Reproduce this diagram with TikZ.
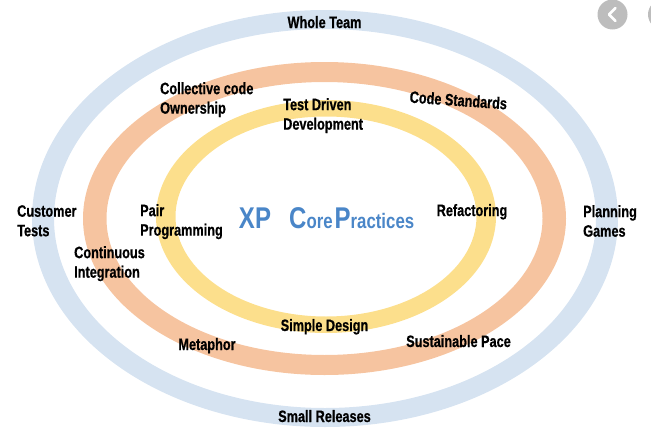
\documentclass[tikz,border=0pt]{standalone}
\usepackage{fontspec}
\setmainfont{Liberation Sans}[FakeStretch=0.77, FakeBold=0.6]
\newfontfamily\titlefont{Liberation Sans}[FakeStretch=0.8]
\definecolor{ringblue}{HTML}{D6E3F1}
\definecolor{ringorange}{HTML}{F6C4A0}
\definecolor{ringyellow}{HTML}{FCDF8C}
\definecolor{xpblue}{HTML}{4A86C8}
\definecolor{btngray}{HTML}{BDBDBD}
\begin{document}
\begin{tikzpicture}[x=1pt,y=-1pt,
  lab/.style={font=\bfseries\fontsize{16.5}{19.5}\selectfont, inner sep=0pt, align=left, text=black},
  big/.style={font=\titlefont\bfseries, inner sep=0pt, text=xpblue},
  ring/.style={even odd rule}]
\useasboundingbox (0,0) rectangle (651,439);
\clip (0,0) rectangle (651,439);
% rings
\fill[ring, ringblue] (325,218.5) ellipse [x radius=293pt, y radius=208.5pt]
                      (325,218.5) ellipse [x radius=271pt, y radius=189.5pt];
\fill[ring, ringorange] (324.5,218.5) ellipse [x radius=241.5pt, y radius=156.5pt]
                        (324.5,218.5) ellipse [x radius=218pt, y radius=136.5pt];
\fill[ring, ringyellow] (326,216.5) ellipse [x radius=170pt, y radius=116.5pt]
                        (326,216.5) ellipse [x radius=150.5pt, y radius=100pt];
% browser buttons
\fill[btngray] (612.5,14.5) circle [radius=15pt];
\draw[white, line width=2.6pt, line cap=round, line join=round] (615.5,8) -- (609,14.5) -- (615.5,21);
\fill[btngray] (663,14.5) circle [radius=15pt];
% labels
\node[lab, anchor=base] (whole) at (324.5,28) {Whole Team};
\node[lab, anchor=north west] (coll) at (160,82) {Collective code\\Ownership};
\node[lab, anchor=north west] (tdd) at (283,98) {Test Driven\\Development};
\node[lab, anchor=base, rotate=-4] (cs) at (458,106) {Code Standards};
\node[lab, anchor=north west] (cust) at (17,205) {Customer\\Tests};
\node[lab, anchor=north west] (pair) at (140,204) {Pair\\Programming};
\node[lab, anchor=north west] (plan) at (583,205) {Planning\\Games};
\node[lab, anchor=north west] (ci) at (74,246) {Continuous\\Integration};
\node[lab, anchor=base] (refac) at (472,216) {Refactoring};
\node[lab, anchor=base] (simple) at (324.5,331) {Simple Design};
\node[lab, anchor=base] (meta) at (207,350) {Metaphor};
\node[lab, anchor=base] (sust) at (458.5,347) {Sustainable Pace};
\node[lab, anchor=base] (small) at (324.5,422) {Small Releases};
% title
\node[big, anchor=base] (xp) at (255,228) {\fontsize{30}{30}\selectfont XP};
\node[big, anchor=base west] (core) at (289,228)
  {\fontsize{30}{30}\selectfont C\fontsize{21}{21}\selectfont ore\kern2pt\fontsize{30}{30}\selectfont P\fontsize{21}{21}\selectfont ractices};
\end{tikzpicture}
\end{document}
